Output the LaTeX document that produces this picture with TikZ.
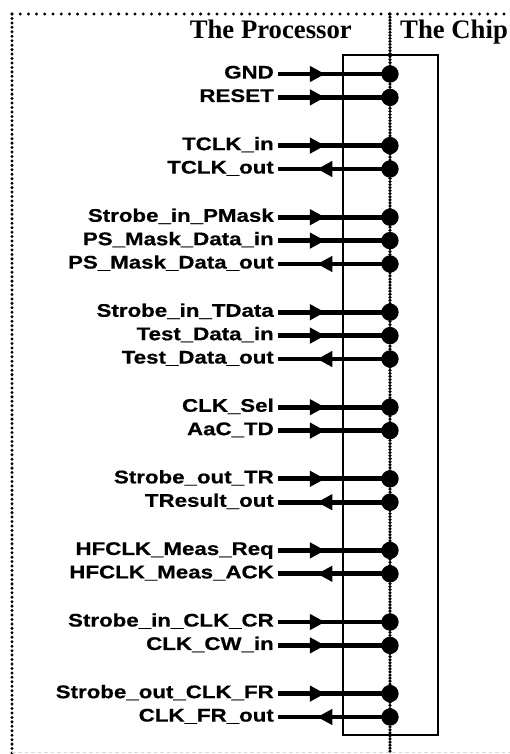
\documentclass[tikz,border=0pt]{standalone}
\usepackage{fontspec}
\usetikzlibrary{positioning}
\usetikzlibrary{arrows.meta}
\usetikzlibrary{decorations.markings}
\newfontfamily\sigfont[FakeStretch=1.22,FakeBold=0.6]{Liberation Sans}
\newfontfamily\headfont{Liberation Serif}

\begin{document}
\begin{tikzpicture}[
    x=0.03cm, y=-0.03cm,
    siglabel/.style={anchor=east,inner xsep=3.4pt,inner ysep=0pt,text height=11.2pt,text depth=0pt,font=\sigfont\bfseries\fontsize{15.6}{17}\selectfont},
    header/.style={inner sep=0pt,font=\headfont\bfseries\fontsize{22.8}{26}\selectfont},
    chipbox/.style={rectangle,draw,line width=2pt,minimum width=2.85cm,minimum height=20.4cm},
    sigin/.style={line width=4pt,postaction={decorate},decoration={markings,mark=at position 0.42 with {\arrow{Triangle[length=13pt,width=13pt]}}}},
    sigout/.style={line width=4pt,postaction={decorate},decoration={markings,mark=at position 0.35 with {\arrowreversed{Triangle[length=13pt,width=13pt]}}}},
    border/.style={line width=2.8pt,line cap=round,dash pattern=on 0pt off 7pt},
    sideborder/.style={line width=2.8pt,line cap=round,dash pattern=on 0pt off 3.8pt},
    divider/.style={line width=3pt,line cap=round,dash pattern=on 0pt off 2.6pt}
]
\useasboundingbox (0,0) rectangle (510,754);

\coordinate (tl) at (12,14);
\coordinate (tr) at (510,14);
\coordinate (bl) at (12,754);
\coordinate (fl) at (12,752.5);
\coordinate (fr) at (510,752.5);
\coordinate (divtop) at (390,14);
\coordinate (divbot) at (390,754);

\draw[border] (tl) -- (tr);
\draw[sideborder] (tl) -- (bl);
\draw[gray!30,line width=0.8pt,dash pattern=on 3pt off 2.5pt] (fl) -- (fr);
\draw[divider] (divtop) -- (divbot);

\node[header,anchor=base east] (proc) at (352,38) {The Processor};
\node[header,anchor=base west] (chiphead) at (400,38) {The Chip};
\node[chipbox] (chip) at (390.5,395) {};

\coordinate (gnd-p) at (390,74);
\coordinate (rst-p) at (390,97.4);
\coordinate (tclkin-p) at (390,145.6);
\coordinate (tclkout-p) at (390,169);
\coordinate (stbpm-p) at (390,217.2);
\coordinate (psmin-p) at (390,240.6);
\coordinate (psmout-p) at (390,264);
\coordinate (stbtd-p) at (390,312.2);
\coordinate (tdin-p) at (390,335.6);
\coordinate (tdout-p) at (390,359);
\coordinate (clksel-p) at (390,407.2);
\coordinate (aac-p) at (390,430.6);
\coordinate (stbtr-p) at (390,478.8);
\coordinate (trout-p) at (390,502.2);
\coordinate (hfreq-p) at (390,550.4);
\coordinate (hfack-p) at (390,573.8);
\coordinate (stbcr-p) at (390,622);
\coordinate (cwin-p) at (390,645.4);
\coordinate (stbfr-p) at (390,693.6);
\coordinate (frout-p) at (390,717);

\node[siglabel] (gnd) at (278,72) {GND};
\node[siglabel] (rst) at (278,95.4) {RESET};
\node[siglabel] (tclkin) at (278,143.6) {TCLK\_in};
\node[siglabel] (tclkout) at (278,167) {TCLK\_out};
\node[siglabel] (stbpm) at (278,215.2) {Strobe\_in\_PMask};
\node[siglabel] (psmin) at (278,238.6) {PS\_Mask\_Data\_in};
\node[siglabel] (psmout) at (278,262) {PS\_Mask\_Data\_out};
\node[siglabel] (stbtd) at (278,310.2) {Strobe\_in\_TData};
\node[siglabel] (tdin) at (278,333.6) {Test\_Data\_in};
\node[siglabel] (tdout) at (278,357) {Test\_Data\_out};
\node[siglabel] (clksel) at (278,405.2) {CLK\_Sel};
\node[siglabel] (aac) at (278,428.6) {AaC\_TD};
\node[siglabel] (stbtr) at (278,476.8) {Strobe\_out\_TR};
\node[siglabel] (trout) at (278,500.2) {TResult\_out};
\node[siglabel] (hfreq) at (278,548.4) {HFCLK\_Meas\_Req};
\node[siglabel] (hfack) at (278,571.8) {HFCLK\_Meas\_ACK};
\node[siglabel] (stbcr) at (278,620) {Strobe\_in\_CLK\_CR};
\node[siglabel] (cwin) at (278,643.4) {CLK\_CW\_in};
\node[siglabel] (stbfr) at (278,691.6) {Strobe\_out\_CLK\_FR};
\node[siglabel] (frout) at (278,715) {CLK\_FR\_out};

\draw[sigin] (gnd.east |- gnd-p) -- (gnd-p);
\draw[sigin] (rst.east |- rst-p) -- (rst-p);
\draw[sigin] (tclkin.east |- tclkin-p) -- (tclkin-p);
\draw[sigout] (tclkout.east |- tclkout-p) -- (tclkout-p);
\draw[sigin] (stbpm.east |- stbpm-p) -- (stbpm-p);
\draw[sigin] (psmin.east |- psmin-p) -- (psmin-p);
\draw[sigout] (psmout.east |- psmout-p) -- (psmout-p);
\draw[sigin] (stbtd.east |- stbtd-p) -- (stbtd-p);
\draw[sigin] (tdin.east |- tdin-p) -- (tdin-p);
\draw[sigout] (tdout.east |- tdout-p) -- (tdout-p);
\draw[sigin] (clksel.east |- clksel-p) -- (clksel-p);
\draw[sigin] (aac.east |- aac-p) -- (aac-p);
\draw[sigin] (stbtr.east |- stbtr-p) -- (stbtr-p);
\draw[sigout] (trout.east |- trout-p) -- (trout-p);
\draw[sigin] (hfreq.east |- hfreq-p) -- (hfreq-p);
\draw[sigout] (hfack.east |- hfack-p) -- (hfack-p);
\draw[sigin] (stbcr.east |- stbcr-p) -- (stbcr-p);
\draw[sigin] (cwin.east |- cwin-p) -- (cwin-p);
\draw[sigin] (stbfr.east |- stbfr-p) -- (stbfr-p);
\draw[sigout] (frout.east |- frout-p) -- (frout-p);

\fill (gnd-p) circle (0.26cm) (rst-p) circle (0.26cm)
      (tclkin-p) circle (0.26cm) (tclkout-p) circle (0.26cm)
      (stbpm-p) circle (0.26cm) (psmin-p) circle (0.26cm) (psmout-p) circle (0.26cm)
      (stbtd-p) circle (0.26cm) (tdin-p) circle (0.26cm) (tdout-p) circle (0.26cm)
      (clksel-p) circle (0.26cm) (aac-p) circle (0.26cm)
      (stbtr-p) circle (0.26cm) (trout-p) circle (0.26cm)
      (hfreq-p) circle (0.26cm) (hfack-p) circle (0.26cm)
      (stbcr-p) circle (0.26cm) (cwin-p) circle (0.26cm)
      (stbfr-p) circle (0.26cm) (frout-p) circle (0.26cm);
\end{tikzpicture}
\end{document}
